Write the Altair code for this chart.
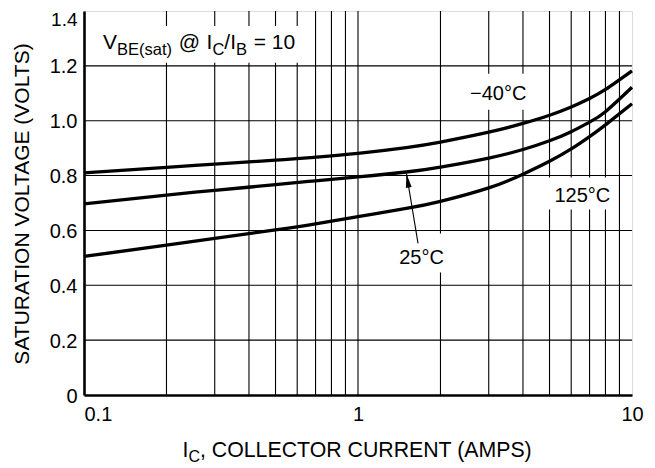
import altair as alt
import pandas as pd

# ---------------- data ----------------
IC = [0.1, 0.2, 0.3, 0.5, 0.7, 1.0, 1.5, 2, 3, 4, 5, 6, 7, 8, 10]
V_M40 = [0.81, 0.83, 0.842, 0.856, 0.867, 0.881, 0.902, 0.922, 0.958, 0.99, 1.02, 1.05, 1.081, 1.114, 1.182]
V_25 = [0.697, 0.729, 0.746, 0.767, 0.781, 0.795, 0.813, 0.831, 0.864, 0.895, 0.927, 0.96, 0.995, 1.033, 1.122]
V_125 = [0.505, 0.546, 0.571, 0.602, 0.624, 0.65, 0.68, 0.706, 0.755, 0.805, 0.852, 0.897, 0.942, 0.985, 1.062]
SERIES = ["-40C", "25C", "125C"]

X_TICKS = [0.1, 1, 10]
Y_TICKS = [0, 0.2, 0.4, 0.6, 0.8, 1.0, 1.2, 1.4]
X_GRID = [0.2, 0.3, 0.4, 0.5, 0.6, 0.7, 0.8, 0.9, 1, 2, 3, 4, 5, 6, 7, 8, 9]
Y_GRID = [0.2, 0.4, 0.6, 0.8, 1.0, 1.2]

# curve labels (data coordinates)
LBL_TEXT = ["\u221240\u00b0C", "125\u00b0C", "25\u00b0C"]
LBL_X = [3.25, 6.59, 1.705]
LBL_Y = [1.075, 0.705, 0.476]

# white boxes behind the texts (data coordinates)
BOX_X = [0.1125, 2.48, 4.85, 1.365]
BOX_X2 = [0.645, 4.27, 8.59, 2.17]
BOX_Y = [1.345, 1.171, 0.793, 0.589]
BOX_Y2 = [1.211, 1.04, 0.676, 0.447]

# arrow for the 25 C label
ARROW_TAIL = [1.656, 0.553]
ARROW_HEAD = [1.503, 0.807]

FONT = "Liberation Sans"
W, H = 548, 384

# ---------------- helpers ----------------
ARIAL = {"V": 667, "B": 667, "E": 667, "(": 333, "s": 500, "a": 556, "t": 278, ")": 333,
         " ": 278, "@": 1015, "I": 278, "C": 722, "/": 278, "=": 584, "1": 556, "0": 556,
         ",": 278}


def tw(s, size):
    return sum(ARIAL.get(c, 600) for c in s) * size / 1000.0


XS = alt.Scale(type="log", domain=[0.1, 10])
YS = alt.Scale(domain=[0, 1.4], nice=False, zero=False)

XAX = alt.Axis(values=X_TICKS, grid=False, ticks=False, tickSize=0, domain=True,
               domainColor="black", domainWidth=2.6, labelFont=FONT, labelFontSize=20,
               labelColor="black", labelPadding=9, format="~g", title=None,
               labelAlign=alt.ExprRef(expr="datum.value < 0.5 ? 'left' : 'center'"),
               labelBound=False, labelFlush=False, labelOverlap=False)
YAX = alt.Axis(values=Y_TICKS, grid=False, ticks=False, tickSize=0, domain=True,
               domainColor="black", domainWidth=2.6, labelFont=FONT,
               labelFontSize=alt.ExprRef(expr="datum.value > 1.3 ? 19 : 20"),
               labelColor="black", labelPadding=7, title=None,
               labelOffset=alt.ExprRef(expr="datum.value > 1.3 ? 8.5 : 1"),
               labelExpr="datum.value == 0 ? '0' : format(datum.value, '.1f')",
               labelOverlap=False)


def xe(f):
    return alt.X(f, type="quantitative", scale=XS, axis=XAX)


def ye(f):
    return alt.Y(f, type="quantitative", scale=YS, axis=YAX)


# ---------------- tables ----------------
rows = []
for s, vals in zip(SERIES, [V_M40, V_25, V_125]):
    for x, v in zip(IC, vals):
        rows.append({"ic": x, "v": v, "s": s})
curves_df = pd.DataFrame(rows)

gx_df = pd.DataFrame({"ic": X_GRID})
gy_df = pd.DataFrame({"v": Y_GRID})
box_df = pd.DataFrame({"ic": BOX_X, "ic2": BOX_X2, "v": BOX_Y, "v2": BOX_Y2})
lbl_df = pd.DataFrame({"ic": LBL_X, "v": LBL_Y, "t": LBL_TEXT})
arrow_df = pd.DataFrame({"ic": [ARROW_TAIL[0]], "v": [ARROW_TAIL[1]],
                         "ic2": [ARROW_HEAD[0]], "v2": [ARROW_HEAD[1]]})
head_df = pd.DataFrame({"ic": [ARROW_HEAD[0]], "v": [ARROW_HEAD[1]]})

# ---------------- layers ----------------
grid_x = alt.Chart(gx_df).mark_rule(color="black", strokeWidth=1.1).encode(x=xe("ic"))
grid_y = alt.Chart(gy_df).mark_rule(color="black", strokeWidth=1.1).encode(y=ye("v"))

boxes = alt.Chart(box_df).mark_rect(fill="white").encode(
    x=xe("ic"), x2="ic2", y=ye("v"), y2="v2")

curves = alt.Chart(curves_df).mark_line(color="black", strokeWidth=3.3,
                                        interpolate="natural").encode(
    x=xe("ic"), y=ye("v"), detail="s:N")

shaft = alt.Chart(arrow_df).mark_rule(color="black", strokeWidth=1.1).encode(
    x=xe("ic"), y=ye("v"), x2="ic2", y2="v2")
head = alt.Chart(head_df).mark_point(shape="M0,0L-0.42,2L0.42,2Z", size=196, filled=True,
                                     color="black", opacity=1, angle=350.7).encode(
    x=xe("ic"), y=ye("v"))

labels = alt.Chart(lbl_df).mark_text(font=FONT, fontSize=20, color="black", align="center",
                                     baseline="alphabetic").encode(
    x=xe("ic"), y=ye("v"), text="t:N")

# ---- annotation title with subscripts (pixel placement inside the plot) ----
MAIN, SUB = 21, 16.5
SP = tw(" ", MAIN) + 0.8
parts = [("V", MAIN, 0), ("BE(sat)", SUB, SP), ("@", MAIN, SP), ("I", MAIN, 0),
         ("C", SUB, 0), ("/I", MAIN, 0), ("B", SUB, SP), ("= 10", MAIN, 0)]
ann_layers = []
cx = 19.0
for txt, sz, gap in parts:
    yb = 37.5 if sz == MAIN else 43.5
    ann_layers.append(
        alt.Chart(pd.DataFrame({"t": [txt]})).mark_text(
            font=FONT, fontSize=sz, color="black", align="left", baseline="alphabetic"
        ).encode(x=alt.value(cx), y=alt.value(yb), text="t:N"))
    cx += tw(txt, sz) + gap

# ---- x-axis title with subscript ----
XT_MAIN, XT_SUB = 21.3, 16
xparts = [("I", XT_MAIN), ("C", XT_SUB), (", COLLECTOR CURRENT (AMPS)", XT_MAIN)]
cx = 98.5
for txt, sz in xparts:
    yb = 446.0 if sz == XT_MAIN else 450.5
    ann_layers.append(
        alt.Chart(pd.DataFrame({"t": [txt]})).mark_text(
            font=FONT, fontSize=sz, color="black", align="left", baseline="alphabetic"
        ).encode(x=alt.value(cx), y=alt.value(yb), text="t:N"))
    cx += tw(txt, sz)

# ---- y-axis title ----
ytitle = alt.Chart(pd.DataFrame({"t": ["SATURATION VOLTAGE (VOLTS)"]})).mark_text(
    font=FONT, fontSize=21, color="black", align="center", baseline="alphabetic", angle=270
).encode(x=alt.value(-55), y=alt.value(H / 2 + 1), text="t:N")

chart = alt.layer(grid_x, grid_y, boxes, curves, shaft, head, labels, ytitle,
                  *ann_layers).properties(
    width=W, height=H,
    autosize=alt.AutoSizeParams(type="none"),
    padding={"left": 76, "top": 3, "right": 15, "bottom": 70},
).configure_view(stroke="black", strokeWidth=1.3).configure(background="white")

chart.save("out.html", embed_options={"renderer": "svg", "actions": False})
